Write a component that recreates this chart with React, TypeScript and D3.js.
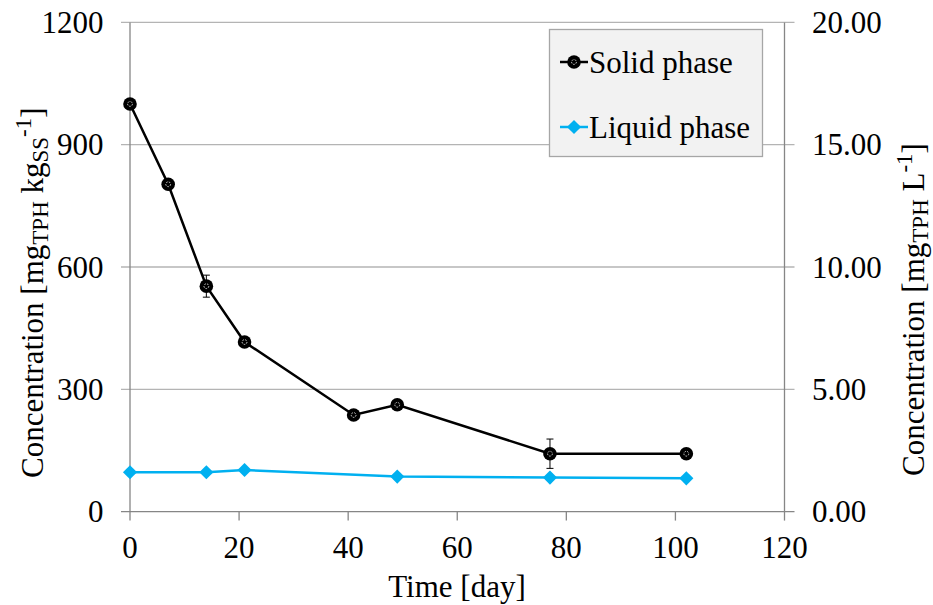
import * as d3 from "d3";

// days sampled
const days = [0, 7, 14, 21, 41, 49, 77, 102];
const solidValues = [1000, 803, 553, 416, 237, 262, 142, 142];
const solidErrors = [0, 0, 27, 0, 0, 0, 36, 0];
const liquidDays = [0, 14, 21, 49, 77, 102];
const liquidValues = [1.61, 1.61, 1.7, 1.43, 1.39, 1.36];

const xTicks = [0, 20, 40, 60, 80, 100, 120];
const leftTicks = [0, 300, 600, 900, 1200];
const rightTicks = [0, 5, 10, 15, 20];

const width = 933;
const height = 605;
const font = "'Liberation Serif', 'Times New Roman', serif";
const fs = 31;
const subFs = 23;
const blue = "#00b0f0";
const axisGray = "#868686";
const gridGray = "#b4b4b4";

const xScale = d3.scaleLinear().domain([0, 120]).range([130, 784.5]);
const yLeft = d3.scaleLinear().domain([0, 1200]).range([511.6, 22.4]);
const yRight = d3.scaleLinear().domain([0, 20]).range([511.6, 22.4]);

function SolidMarker({ x, y }: { x: number; y: number }) {
  return (
    <g transform={`translate(${x},${y})`}>
      <circle r={6.8} fill="#000" />
      <circle r={2.4} fill="none" stroke="#fff" strokeWidth={0.8} strokeDasharray="1.5 1.2" />
    </g>
  );
}

function LiquidMarker({ x, y }: { x: number; y: number }) {
  const path = d3.symbol(d3.symbolSquare, 100)() as string;
  return <path d={path} transform={`translate(${x},${y}) rotate(45)`} fill={blue} />;
}

export default function App() {
  const solidPts = days.map((d, i) => ({ x: d, y: solidValues[i], e: solidErrors[i] }));
  const liquidPts = liquidDays.map((d, i) => ({ x: d, y: liquidValues[i] }));

  const solidLine = d3
    .line<{ x: number; y: number }>()
    .x((d) => xScale(d.x))
    .y((d) => yLeft(d.y));
  const liquidLine = d3
    .line<{ x: number; y: number }>()
    .x((d) => xScale(d.x))
    .y((d) => yRight(d.y));

  const x0 = xScale(0);
  const x1 = xScale(120);
  const yb = yLeft(0);

  return (
    <svg
      width={width}
      height={height}
      style={{ position: "absolute", left: 0, top: 0, background: "#fff" }}
      fontFamily={font}
    >
      {/* gridlines + left / right ticks */}
      {leftTicks.map((t) => (
        <line key={"g" + t} x1={x0 - 9} x2={x1 + 10} y1={yLeft(t)} y2={yLeft(t)}
          stroke={t === 0 ? axisGray : gridGray} strokeWidth={1.3} />
      ))}
      <line x1={x0} x2={x0} y1={yLeft(1200)} y2={yb} stroke={axisGray} strokeWidth={1.3} />
      <line x1={x1} x2={x1} y1={yLeft(1200)} y2={yb} stroke={axisGray} strokeWidth={1.3} />
      {xTicks.map((t) => (
        <line key={"xt" + t} x1={xScale(t)} x2={xScale(t)} y1={yb} y2={yb + 9}
          stroke={axisGray} strokeWidth={1.3} />
      ))}

      {/* tick labels */}
      {leftTicks.map((t) => (
        <text key={"ll" + t} x={103.5} y={yLeft(t)} dy="0.34em" textAnchor="end" fontSize={fs}>
          {t}
        </text>
      ))}
      {rightTicks.map((t) => (
        <text key={"rl" + t} x={812} y={yRight(t)} dy="0.34em" textAnchor="start" fontSize={fs}>
          {t.toFixed(2)}
        </text>
      ))}
      {xTicks.map((t) => (
        <text key={"xl" + t} x={xScale(t)} y={558} textAnchor="middle" fontSize={fs}>
          {t}
        </text>
      ))}

      {/* axis titles */}
      <text x={457} y={597} textAnchor="middle" fontSize={fs}>Time [day]</text>
      <text transform="translate(43,478) rotate(-90)" fontSize={fs}>
        Concentration [mg
        <tspan fontSize={subFs} dy={5}>TPH</tspan>
        <tspan dy={-5}> kg</tspan>
        <tspan fontSize={subFs} dy={5}>SS</tspan>
        <tspan fontSize={subFs} dy={-17}>-1</tspan>
        <tspan dy={12}>]</tspan>
      </text>
      <text transform="translate(924,476) rotate(-90)" fontSize={fs}>
        Concentration [mg
        <tspan fontSize={subFs} dy={4}>TPH</tspan>
        <tspan dy={-4}> L</tspan>
        <tspan fontSize={subFs} dy={-12}>-1</tspan>
        <tspan dy={12}>]</tspan>
      </text>

      {/* liquid series */}
      <path d={liquidLine(liquidPts) as string} fill="none" stroke={blue} strokeWidth={2.5} />
      {liquidPts.map((p, i) => (
        <LiquidMarker key={"lm" + i} x={xScale(p.x)} y={yRight(p.y)} />
      ))}

      {/* solid series */}
      <path d={solidLine(solidPts) as string} fill="none" stroke="#000" strokeWidth={2.5} />
      {solidPts
        .filter((p) => p.e > 0)
        .map((p, i) => {
          const cx = xScale(p.x);
          const top = yLeft(p.y + p.e);
          const bot = yLeft(p.y - p.e);
          return (
            <g key={"eb" + i} stroke="#000" strokeWidth={1}>
              <line x1={cx} x2={cx} y1={top} y2={bot} />
              <line x1={cx - 3.5} x2={cx + 3.5} y1={top} y2={top} />
              <line x1={cx - 3.5} x2={cx + 3.5} y1={bot} y2={bot} />
            </g>
          );
        })}
      {solidPts.map((p, i) => (
        <SolidMarker key={"sm" + i} x={xScale(p.x)} y={yLeft(p.y)} />
      ))}

      {/* legend */}
      <rect x={549.5} y={29.5} width={213} height={127} fill="#f2f2f2" stroke="#a6a6a6" strokeWidth={1.3} />
      <line x1={560} x2={588} y1={62} y2={62} stroke="#000" strokeWidth={2.5} />
      <SolidMarker x={574} y={62} />
      <text x={589} y={62} dy="0.34em" fontSize={fs}>Solid phase</text>
      <line x1={560} x2={588} y1={127} y2={127} stroke={blue} strokeWidth={2.5} />
      <LiquidMarker x={574} y={127} />
      <text x={589} y={127} dy="0.34em" fontSize={fs}>Liquid phase</text>
    </svg>
  );
}
